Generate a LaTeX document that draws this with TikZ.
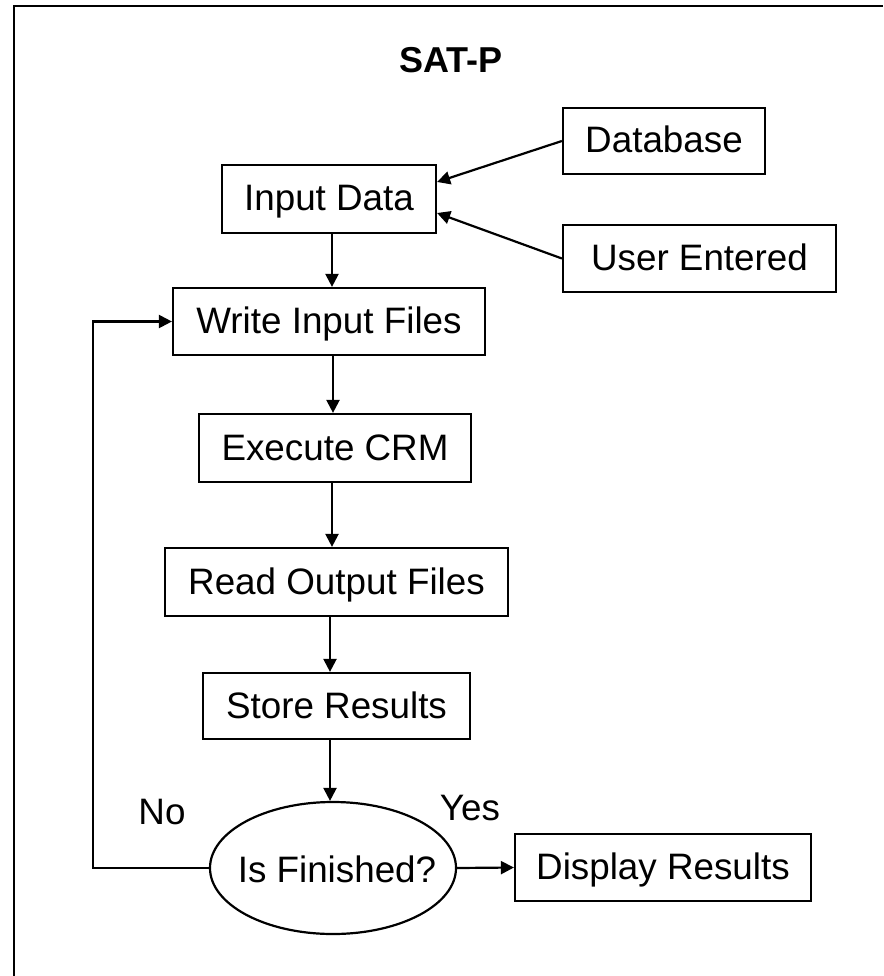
\documentclass[tikz,border=0pt]{standalone}
\usepackage{fontspec}
\setmainfont{Liberation Sans}
\usetikzlibrary{arrows.meta,shapes.geometric}
\begin{document}
\begin{tikzpicture}[x=1pt,y=-1pt,
  lbl/.style={font=\fontsize{36.8}{44}\selectfont,text height=24pt,text depth=0pt,inner sep=0pt},
  box/.style={draw,line width=2.2pt,lbl,anchor=center},
  arr/.style={line width=2.2pt,-{Triangle[length=13pt,width=13pt]}},
  ]
\useasboundingbox (0,0) rectangle (883,976);
\draw[line width=2.8pt] (14,976) -- (14,6) -- (883,6);

\node[font=\fontsize{36}{43}\selectfont\bfseries,text height=26pt,text depth=0pt,inner sep=0pt] (title) at (451,60) {SAT-P};

\node[box,minimum width=214pt,minimum height=68pt] (input) at (329,199) {Input Data};
\node[box,minimum width=202pt,minimum height=66pt] (db) at (664,141) {Database};
\node[box,minimum width=273pt,minimum height=67pt] (user) at (699.5,258.5) {User Entered};
\node[box,minimum width=312pt,minimum height=67pt] (write) at (329,321.5) {Write Input Files};
\node[box,minimum width=272pt,minimum height=68pt] (exec) at (335,448) {Execute CRM};
\node[box,minimum width=343pt,minimum height=68pt] (read) at (336.5,582) {Read Output Files};
\node[box,minimum width=267pt,minimum height=66pt] (store) at (336.5,706) {Store Results};
\node[draw,ellipse,line width=2.2pt,minimum width=246pt,minimum height=132pt,inner sep=0pt] (fin) at (333,868) {};
\node[lbl] (fintext) at (337,870) {Is Finished?};
\node[box,minimum width=296pt,minimum height=67pt] (disp) at (663,867.5) {Display Results};

\node[lbl,text height=26pt] (no) at (162,811) {No};
\node[lbl,text height=26pt] (yes) at (470,807) {Yes};

\coordinate (loopc) at (93,868);

\draw[arr] (db.west) -- ([yshift=17pt]input.east);
\draw[arr] (user.west) -- ([yshift=-14pt]input.east);
\draw[arr] ([xshift=3pt]input.south) -- ([xshift=3pt]input.south |- write.north);
\draw[arr] ([xshift=4pt]write.south) -- ([xshift=4pt]write.south |- exec.north);
\draw[arr] ([xshift=-3pt]exec.south) -- ([xshift=-3pt]exec.south |- read.north);
\draw[arr] ([xshift=-6.5pt]read.south) -- ([xshift=-6.5pt]read.south |- store.north);
\draw[arr] ([xshift=-6.5pt]store.south) -- ([xshift=-6.5pt]store.south |- fin.north);
\draw[arr] (fin.east) -- (disp.west);
\draw[arr] (fin.west) -- (loopc |- fin.west) |- (write.west);
\end{tikzpicture}
\end{document}
